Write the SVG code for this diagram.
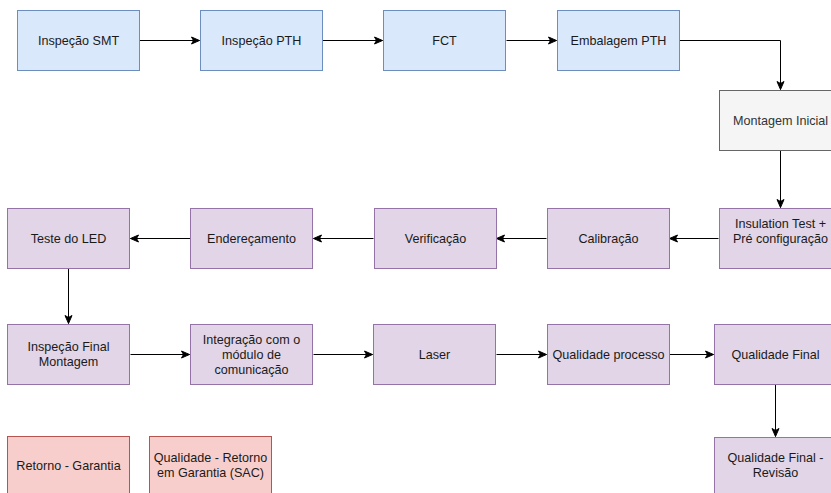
<svg xmlns="http://www.w3.org/2000/svg" width="831" height="493" viewBox="0 0 831 493">
<defs>
<marker id="arr" markerUnits="userSpaceOnUse" markerWidth="10" markerHeight="10" viewBox="0 0 10 10" refX="9" refY="5" orient="auto">
<path d="M1,1.5 L9,5 L1,8.5 L3,5 z" fill="#000" stroke="#000" stroke-width="1"/>
</marker>
<style>
text{font-family:"Liberation Sans",Arial,sans-serif;font-size:12.6px;fill:#1a1a1a;text-anchor:middle}
.blue{fill:#dae8fc;stroke:#6c8ebf}
.gray{fill:#f5f5f5;stroke:#666666}
.purple{fill:#e1d5e7;stroke:#9673a6}
.red{fill:#f8cecc;stroke:#b85450}
.edge{fill:none;stroke:#000;stroke-width:1;marker-end:url(#arr)}
</style>
</defs>
<rect width="831" height="493" fill="#fff"/>
<g id="connectors">
<path class="edge" d="M139.5,40.5 H199.5"/>
<path class="edge" d="M322.5,40.5 H382.5"/>
<path class="edge" d="M506.5,40.5 H556.5"/>
<path class="edge" d="M679.5,40.5 H780.5 V89.5"/>
<path class="edge" d="M780.5,150.5 V207.5"/>
<path class="edge" d="M718.5,238.5 H669.5"/>
<path class="edge" d="M546.5,238.5 H496.5"/>
<path class="edge" d="M373.5,238.5 H313.5"/>
<path class="edge" d="M190.5,238.5 H130.5"/>
<path class="edge" d="M68.5,268.5 V323.5"/>
<path class="edge" d="M130.5,354.5 H189.5"/>
<path class="edge" d="M313.5,354.5 H372.5"/>
<path class="edge" d="M496.5,354.5 H546.5"/>
<path class="edge" d="M669.5,354.5 H713.5"/>
<path class="edge" d="M775.5,384.5 V436.5"/>
</g>
<g id="n1"><rect class="blue" x="17.5" y="10.5" width="122" height="60"/><text x="78.5" y="44.5">Inspeção SMT</text></g>
<g id="n2"><rect class="blue" x="200.5" y="10.5" width="122" height="60"/><text x="261.5" y="44.5">Inspeção PTH</text></g>
<g id="n3"><rect class="blue" x="383.5" y="10.5" width="122" height="60"/><text x="444.5" y="44.5">FCT</text></g>
<g id="n4"><rect class="blue" x="557.5" y="10.5" width="122" height="60"/><text x="618.5" y="44.5">Embalagem PTH</text></g>
<g id="n5"><rect class="gray" x="719.5" y="90.5" width="122" height="60"/><text x="780.5" y="124.5" style="fill:#333">Montagem Inicial</text></g>
<g id="n6"><rect class="purple" x="719.5" y="208.5" width="122" height="60"/><text x="780.5" y="227.5">Insulation Test +</text><text x="780.5" y="242.5">Pré configuração</text></g>
<g id="n7"><rect class="purple" x="547.5" y="208.5" width="122" height="60"/><text x="608.5" y="242.5">Calibração</text></g>
<g id="n8"><rect class="purple" x="374.5" y="208.5" width="122" height="60"/><text x="435.5" y="242.5">Verificação</text></g>
<g id="n9"><rect class="purple" x="190.5" y="208.5" width="122" height="60"/><text x="251.5" y="242.5">Endereçamento</text></g>
<g id="n10"><rect class="purple" x="7.5" y="208.5" width="122" height="60"/><text x="68.5" y="242.5">Teste do LED</text></g>
<g id="n11"><rect class="purple" x="7.5" y="324.5" width="122" height="60"/><text x="68.5" y="350.5">Inspeção Final</text><text x="68.5" y="365.5">Montagem</text></g>
<g id="n12"><rect class="purple" x="190.5" y="324.5" width="122" height="60"/><text x="251.5" y="343.5">Integração com o</text><text x="251.5" y="358.5">módulo de</text><text x="251.5" y="373.5">comunicação</text></g>
<g id="n13"><rect class="purple" x="373.5" y="324.5" width="122" height="60"/><text x="434.5" y="358.5">Laser</text></g>
<g id="n14"><rect class="purple" x="547.5" y="324.5" width="122" height="60"/><text x="608.5" y="358.5">Qualidade processo</text></g>
<g id="n15"><rect class="purple" x="714.5" y="324.5" width="122" height="60"/><text x="775.5" y="358.5">Qualidade Final</text></g>
<g id="n16"><rect class="purple" x="714.5" y="437.5" width="122" height="60"/><text x="775.5" y="461.5">Qualidade Final -</text><text x="775.5" y="476.5">Revisão</text></g>
<g id="n17"><rect class="red" x="7.5" y="436.5" width="122" height="60"/><text x="68.5" y="469.5">Retorno - Garantia</text></g>
<g id="n18"><rect class="red" x="149.5" y="436.5" width="122" height="60"/><text x="210.5" y="461.5">Qualidade - Retorno</text><text x="210.5" y="476.5">em Garantia (SAC)</text></g>
</svg>
